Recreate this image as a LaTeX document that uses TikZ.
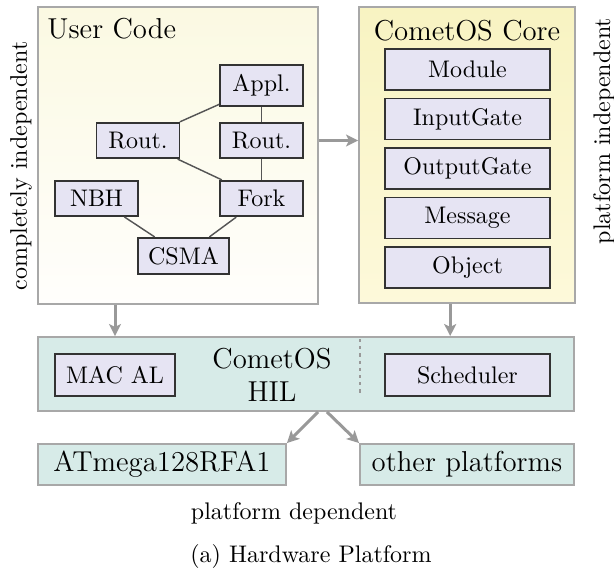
\documentclass[tikz,border=0pt]{standalone}
\usetikzlibrary{arrows.meta}
\definecolor{boxline}{HTML}{A8A8A8}
\definecolor{usertop}{HTML}{FBF9E2}
\definecolor{userbot}{HTML}{FFFEFC}
\definecolor{coretop}{HTML}{F8F3C2}
\definecolor{corebot}{HTML}{FDF9DA}
\definecolor{lav}{HTML}{E6E4F3}
\definecolor{teal}{HTML}{D7EBE8}
\definecolor{arrgray}{HTML}{999999}
\definecolor{edgegray}{HTML}{555555}
\begin{document}
\begin{tikzpicture}[x=0.41667pt,y=-0.41667pt,
  outer/.style={draw=boxline,line width=0.8pt,inner sep=0pt},
  small/.style={draw=black!80,line width=0.7pt,fill=lav,inner xsep=4.2pt,inner ysep=3.9pt,minimum width=34.6pt},
  corebox/.style={draw=black!80,line width=0.7pt,fill=lav,minimum width=68.75pt,minimum height=17.08pt,inner sep=0pt},
  platbox/.style={draw=boxline,line width=0.8pt,fill=teal,minimum height=17.08pt,inner sep=0pt,font=\large},
  link/.style={draw=edgegray,line width=0.6pt},
  arr/.style={draw=arrgray,line width=1.25pt,-{Stealth[length=5pt,width=5pt,inset=1.2pt]}},
  lbl/.style={inner sep=0pt}]
\useasboundingbox (0,0) rectangle (614,569);
% outer boxes
\node[outer,top color=usertop,bottom color=userbot,minimum width=116.67pt,minimum height=123.75pt] (user) at (178,155.5) {};
\node[outer,top color=coretop,bottom color=corebot,minimum width=90pt,minimum height=123.33pt] (core) at (467,155) {};
\node[lbl,font=\large,anchor=west] (usertitle) at (47,29) {User Code};
\node[lbl,font=\large] (coretitle) at (467,31) {CometOS Core};
% user code graph
\node[small] (appl) at (261.5,85.5) {Appl.};
\node[small] (routr) at (261.5,140.5) {Rout.};
\node[small] (routl) at (138,140.5) {Rout.};
\node[small] (nbh) at (96.5,198.5) {NBH};
\node[small] (fork) at (261.5,198.5) {Fork};
\node[small] (csma) at (183.5,256) {CSMA};
\draw[link] (appl) -- (routl);
\draw[link] (appl) -- (routr);
\draw[link] (routr) -- (fork);
\draw[link] (routl) -- (fork);
\draw[link] (nbh) -- (csma);
\draw[link] (fork) -- (csma);
% core boxes
\node[corebox] (module) at (467.5,69.5) {Module};
\node[corebox] (input) at (467.5,119) {InputGate};
\node[corebox] (output) at (467.5,168.5) {OutputGate};
\node[corebox] (message) at (467.5,218) {Message};
\node[corebox] (object) at (467.5,267.5) {Object};
% HIL
\node[outer,fill=teal,minimum width=223.33pt,minimum height=30.83pt] (hil) at (306,374) {};
\node[lbl,font=\large,align=center] (hiltext) at (272,375) {CometOS\\HIL};
\node[draw=black!80,line width=0.7pt,fill=lav,minimum width=50pt,minimum height=17.5pt,inner sep=0pt] (mac) at (115,375) {MAC AL};
\node[draw=black!80,line width=0.7pt,fill=lav,minimum width=68.75pt,minimum height=17.5pt,inner sep=0pt] (sched) at (467.5,375) {Scheduler};
\coordinate (dtop) at (360,339);
\coordinate (dbot) at (360,395);
\draw[arrgray,line width=1.2pt,dash pattern=on 1.3pt off 1.7pt] (dtop) -- (dbot);
% platforms
\node[platbox,minimum width=103.33pt] (atmega) at (162,464.5) {ATmega128RFA1};
\node[platbox,minimum width=89.17pt] (other) at (467,464.5) {other platforms};
% labels
\node[lbl,rotate=90] (cind) at (21,166) {completely independent};
\node[lbl,rotate=90] (pind) at (604,131) {platform independent};
\node[lbl] (pdep) at (294,513) {platform dependent};
\node[lbl] (caption) at (311,556) {(a) Hardware Platform};
% arrows
\draw[arr] (user.east |- routr) -- (core.west |- routr);
\draw[arr] (user.south -| mac) -- (hil.north -| mac);
\draw[arr] ([xshift=-7pt]core.south) -- ([xshift=-7pt]core.south |- hil.north);
\draw[arr] ([xshift=5pt]hil.south) -- (atmega.north east);
\draw[arr] ([xshift=8.75pt]hil.south) -- (other.north west);
\end{tikzpicture}
\end{document}
